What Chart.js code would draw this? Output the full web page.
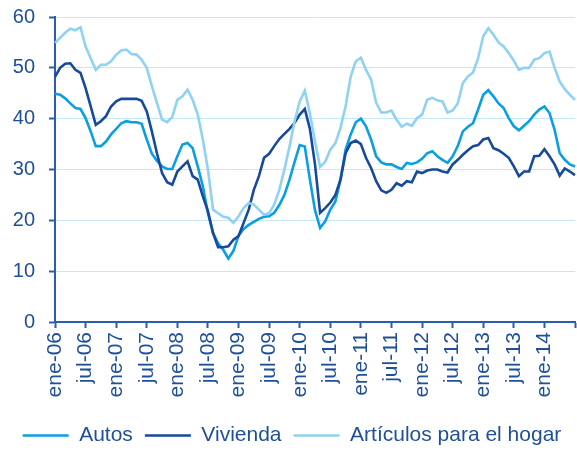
<!DOCTYPE html>
<html>
<head>
<meta charset="utf-8">
<script src="https://cdn.jsdelivr.net/npm/chart.js@4.4.1/dist/chart.umd.min.js"></script>
<style>
  html, body { margin: 0; padding: 0; background: #fff; }
  #wrap { width: 577px; height: 453px; }
</style>
</head>
<body>
<div id="wrap"><canvas id="chart" width="577" height="453"></canvas></div>
<script>
// monthly series, ene-06 .. jul-14
const monthNames = ['ene', 'feb', 'mar', 'abr', 'may', 'jun', 'jul', 'ago', 'sep', 'oct', 'nov', 'dic'];
const years = ['06', '07', '08', '09', '10', '11', '12', '13', '14'];
const categories = [];
years.forEach(y => monthNames.forEach(m => categories.push(m + '-' + y)));
categories.splice(103);

const autos = [
  44.9, 44.7, 44.0, 43.0, 42.1, 41.9, 40.1, 37.5, 34.6, 34.6, 35.5, 36.9,
  38.0, 39.1, 39.5, 39.3, 39.3, 39.0, 35.9, 33.1, 31.7, 30.6, 30.1, 30.1,
  32.6, 34.9, 35.2, 34.2, 30.6, 26.7, 21.4, 17.5, 15.5, 14.2, 12.5, 14.0,
  17.0, 18.3, 19.1, 19.7, 20.3, 20.7, 20.8, 21.5, 23.0, 25.0, 28.0, 31.5,
  34.8, 34.5, 28.0, 22.0, 18.5, 19.8, 22.1, 23.7, 28.0, 33.9, 36.9, 39.3,
  40.0, 38.5, 35.9, 32.6, 31.4, 31.0, 31.0, 30.5, 30.1, 31.3, 31.1, 31.4,
  32.1, 33.2, 33.6, 32.6, 31.9, 31.3, 32.6, 34.6, 37.5, 38.4, 39.1, 41.8,
  44.7, 45.6, 44.4, 43.0, 42.1, 40.1, 38.5, 37.7, 38.6, 39.5, 40.8, 41.8,
  42.4, 41.1, 37.8, 33.2, 31.9, 31.0, 30.6
];

const vivienda = [
  48.2, 50.0, 50.8, 50.9, 49.6, 49.0, 46.0, 42.4, 38.8, 39.5, 40.5, 42.4,
  43.4, 43.9, 43.9, 43.9, 43.9, 43.5, 41.4, 37.5, 33.2, 29.3, 27.5, 27.0,
  29.6, 30.6, 31.6, 28.7, 28.0, 24.7, 21.8, 17.5, 14.7, 14.7, 14.9, 16.2,
  16.9, 19.5, 22.1, 26.0, 28.7, 32.3, 33.1, 34.6, 36.0, 37.0, 38.0, 39.2,
  40.8, 41.9, 38.0, 31.0, 21.5, 22.4, 23.5, 25.0, 28.0, 33.2, 35.2, 35.7,
  35.0, 32.3, 30.3, 27.7, 25.9, 25.4, 26.0, 27.3, 26.8, 27.7, 27.5, 29.6,
  29.3, 29.8, 30.0, 30.0, 29.6, 29.4, 31.0, 31.9, 32.9, 33.8, 34.6, 34.8,
  35.9, 36.2, 34.2, 33.8, 33.1, 32.3, 30.6, 28.7, 29.6, 29.6, 32.6, 32.7,
  34.0, 32.6, 31.0, 28.8, 30.2, 29.6, 28.9
];

const articulos = [
  54.9, 55.9, 56.9, 57.7, 57.4, 58.0, 54.2, 51.9, 49.6, 50.6, 50.6, 51.3,
  52.6, 53.4, 53.6, 52.7, 52.6, 51.6, 50.0, 46.4, 43.1, 39.8, 39.3, 40.3,
  43.7, 44.4, 45.7, 43.7, 40.8, 35.9, 30.0, 22.1, 21.4, 20.7, 20.5, 19.5,
  20.8, 22.4, 23.4, 23.1, 22.1, 21.1, 21.4, 23.1, 26.0, 30.0, 34.5, 39.5,
  43.4, 45.5, 41.0, 35.5, 30.5, 31.5, 33.9, 35.2, 38.2, 42.4, 48.3, 51.3,
  52.0, 49.6, 47.7, 43.1, 41.2, 41.2, 41.6, 39.8, 38.4, 39.0, 38.6, 40.1,
  40.8, 43.7, 44.1, 43.6, 43.4, 41.2, 41.6, 43.0, 47.0, 48.3, 49.1, 51.9,
  56.2, 57.8, 56.5, 55.0, 54.2, 52.9, 51.4, 49.6, 50.0, 50.0, 51.6, 51.9,
  52.9, 53.2, 50.0, 47.3, 45.8, 44.7, 43.7
];

const seriesNames = ['Autos', 'Vivienda', 'Artículos para el hogar'];
const seriesColors = ['#0a9fe0', '#174a9a', '#8fd2f2'];
const tickMonths = ['ene', 'jul'];
const lastTickLabel = 'ene-14';

const textColor = '#1f4f98';
const axisColor = '#2a5db0';
const gridColor = '#c6e7f7';
const fontFamily = '"Liberation Sans", Arial, sans-serif';

const lastLabelIdx = categories.indexOf(lastTickLabel);

new Chart(document.getElementById('chart'), {
  type: 'line',
  data: {
    labels: categories,
    datasets: [autos, vivienda, articulos].map((d, i) => ({
      label: seriesNames[i],
      data: d,
      borderColor: seriesColors[i],
      backgroundColor: seriesColors[i],
      borderWidth: 2.6,
      pointRadius: 0,
      tension: 0,
      fill: false
    })).reverse()
  },
  options: {
    responsive: false,
    animation: false,
    layout: { padding: { left: 7, right: 0, top: 17, bottom: -3 } },
    plugins: {
      tooltip: { enabled: false },
      legend: {
        position: 'bottom',
        reverse: true,
        labels: {
          color: textColor,
          font: { family: fontFamily, size: 21 },
          boxWidth: 46,
          boxHeight: 0,
          padding: 12
        }
      }
    },
    scales: {
      x: {
        type: 'category',
        offset: false,
        grid: {
          drawOnChartArea: false,
          drawTicks: true,
          tickLength: 6,
          tickWidth: 2,
          tickColor: ctx => (ctx.index % 6 === 0 ? axisColor : 'rgba(0,0,0,0)')
        },
        border: { display: true, color: axisColor, width: 2 },
        ticks: {
          autoSkip: false,
          maxRotation: 90,
          minRotation: 90,
          padding: 4,
          color: textColor,
          font: { family: fontFamily, size: 21 },
          callback: function (value, index) {
            const lab = this.getLabelForValue(value);
            return tickMonths.includes(lab.slice(0, 3)) && index <= lastLabelIdx ? lab : '';
          }
        },
        afterFit: s => { s.paddingLeft = 0; s.paddingRight = 2; s.height = 91; }
      },
      y: {
        min: 0,
        max: 60,
        ticks: {
          stepSize: 10,
          padding: 14,
          color: textColor,
          font: { family: fontFamily, size: 20 }
        },
        grid: {
          color: gridColor,
          lineWidth: 1,
          tickLength: 6,
          tickWidth: 2,
          tickColor: axisColor
        },
        border: { color: axisColor, width: 2 },
        afterFit: s => { s.width = 48; s.paddingTop = 0; s.paddingBottom = 0; }
      }
    }
  }
});
</script>
</body>
</html>
